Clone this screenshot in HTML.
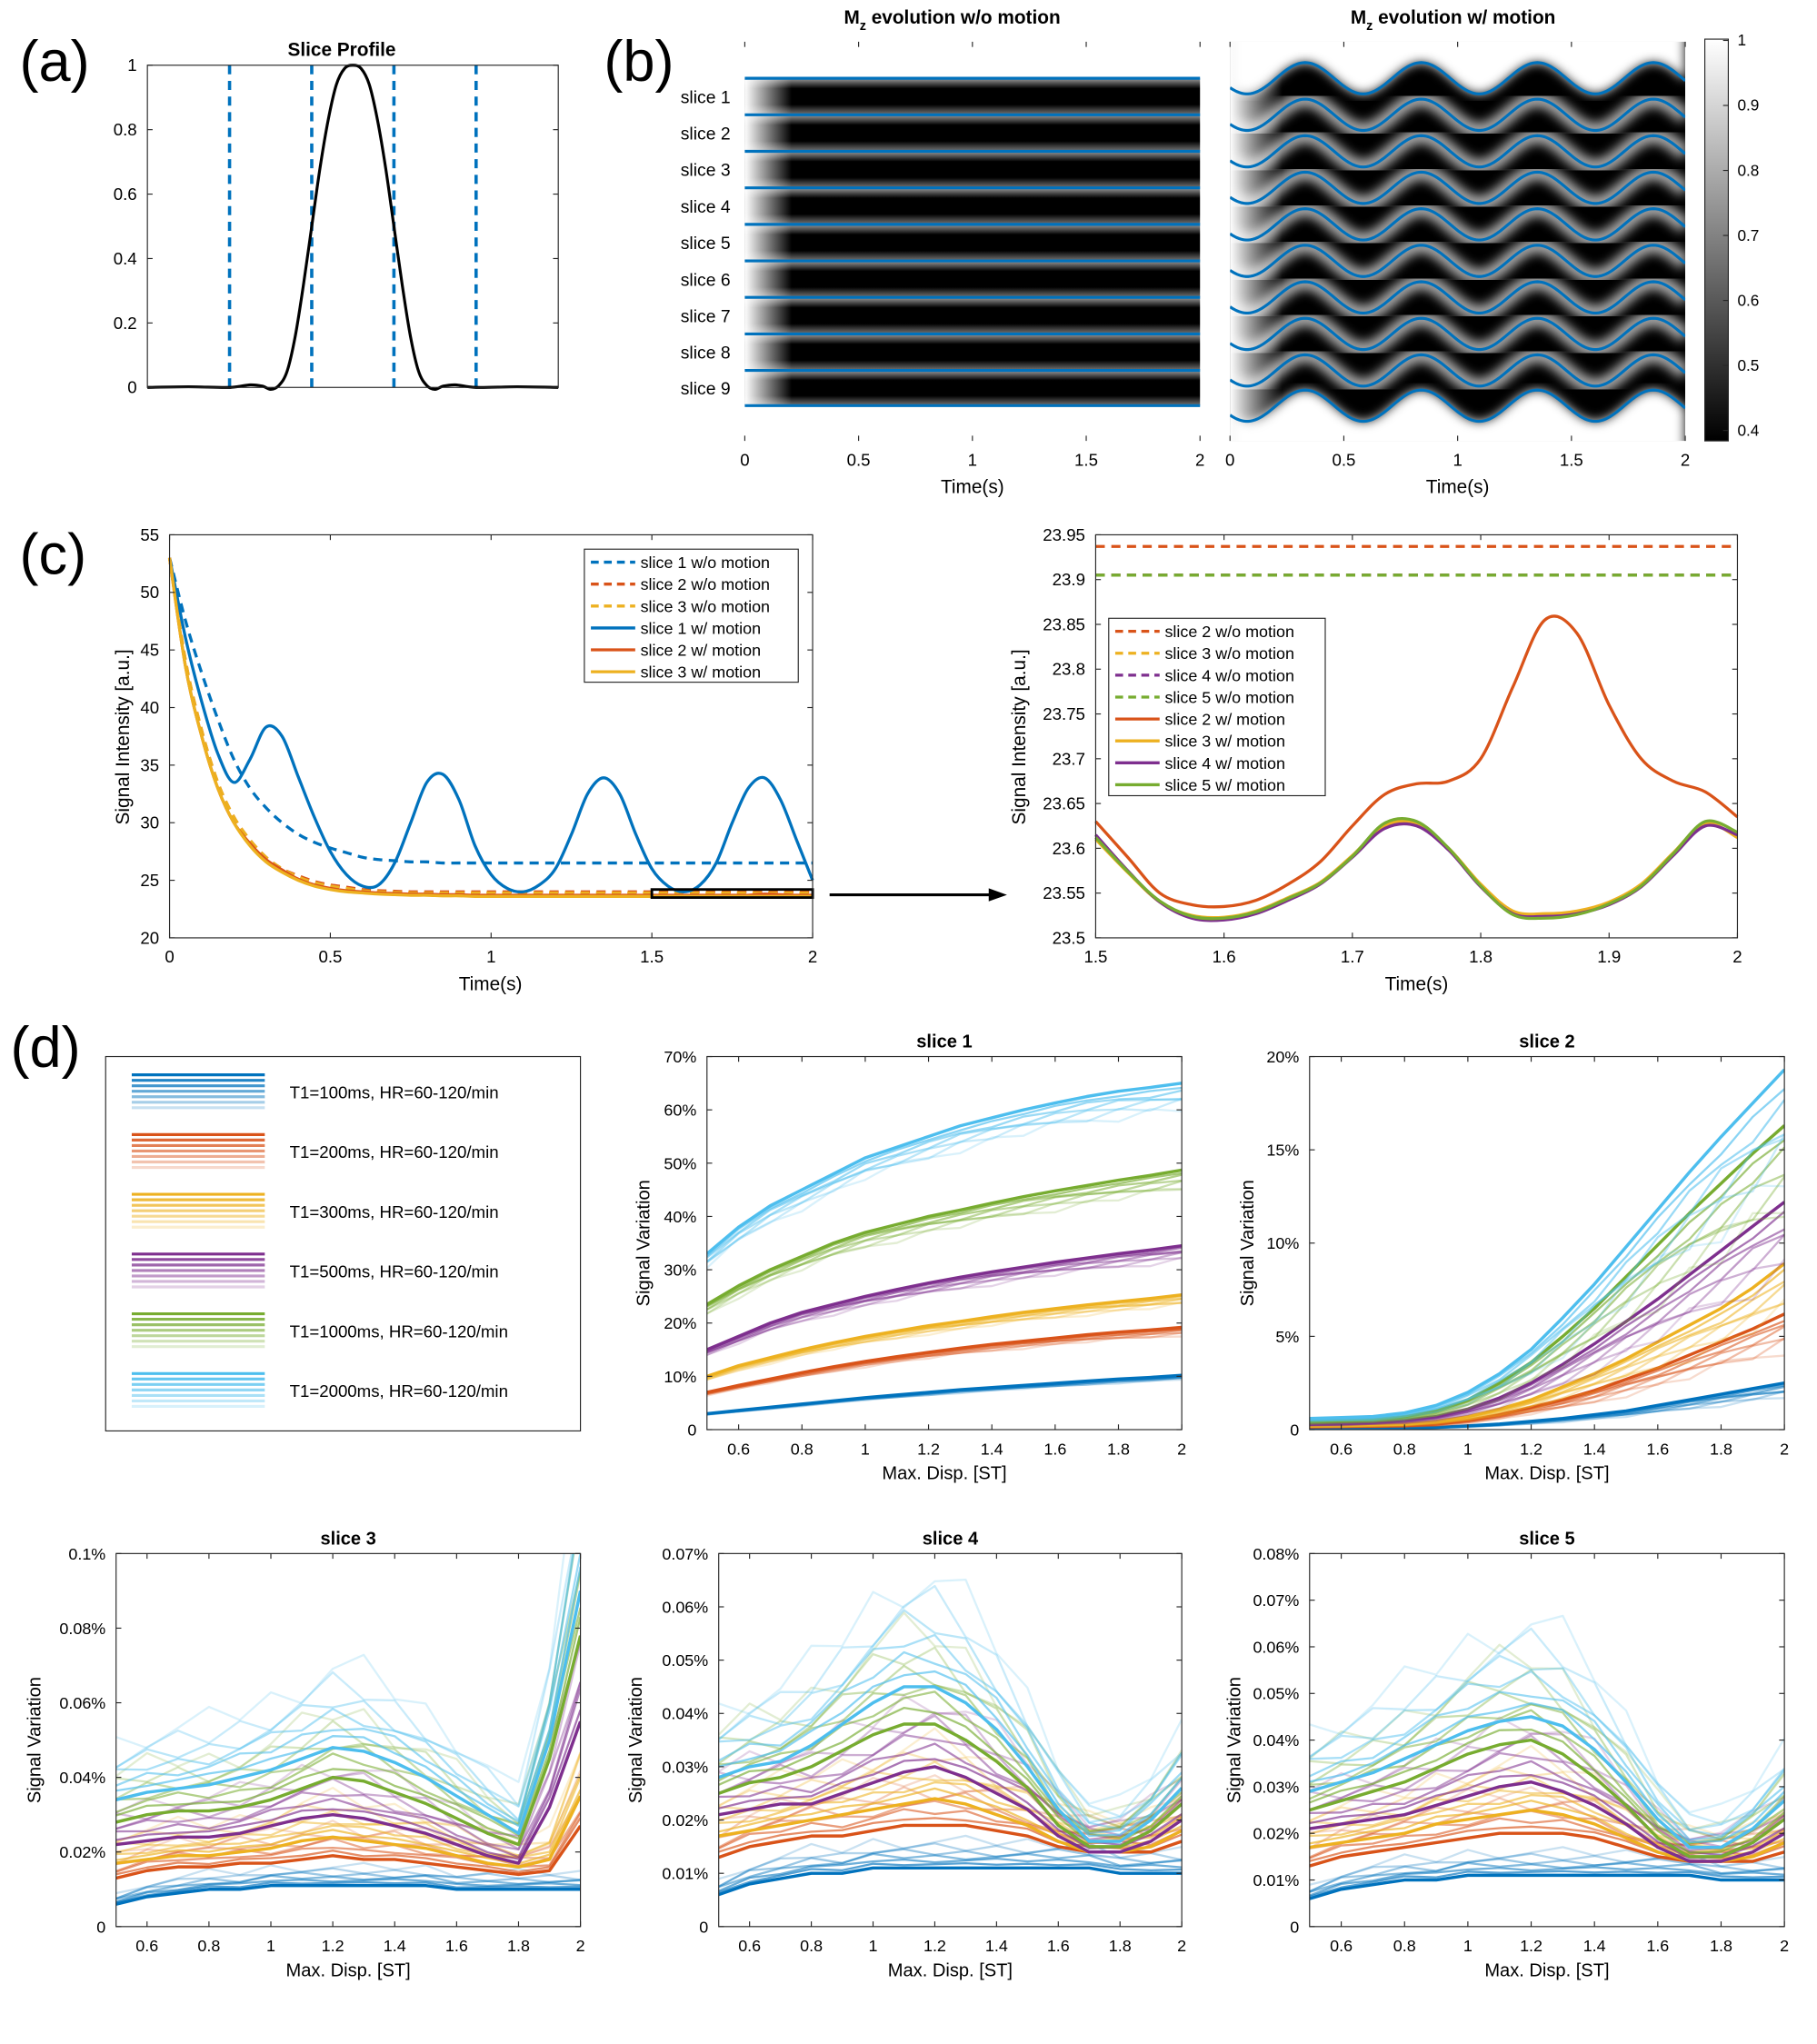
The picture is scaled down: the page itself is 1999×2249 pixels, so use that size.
<!DOCTYPE html>
<html><head><meta charset="utf-8">
<style>
html,body{margin:0;padding:0;background:#fff;}
svg{display:block;font-family:"Liberation Sans",Arial,sans-serif;}
</style></head>
<body>
<svg id="fig" width="1999" height="2249" viewBox="0 0 1393 1567" preserveAspectRatio="none" xmlns="http://www.w3.org/2000/svg">
<defs>
<linearGradient id="cbar" x1="0" y1="1" x2="0" y2="0"><stop offset="0" stop-color="#000"/><stop offset="1" stop-color="#fff"/></linearGradient>
<linearGradient id="band" x1="0" y1="0" x2="0" y2="1"><stop offset="0" stop-color="#9a9a9a"/><stop offset="0.28" stop-color="#000"/><stop offset="0.72" stop-color="#000"/><stop offset="1" stop-color="#777"/></linearGradient>
<linearGradient id="leftfade" x1="0" y1="0" x2="1" y2="0"><stop offset="0" stop-color="#fff" stop-opacity="1"/><stop offset="1" stop-color="#fff" stop-opacity="0"/></linearGradient>
<filter id="blur"><feGaussianBlur stdDeviation="4"/></filter>
<clipPath id="clipR"><rect x="943" y="32" width="349" height="306"/></clipPath>
</defs>
</svg>
<script>
// ---------- DATA ----------
const profileV = [0,10,20,25,28,30,32,34,36,38,40,42,44,46,48,50,52,54,56,58,60,62,64,66,68,70,72,75,80,90,100];
const profileY = [0,0.002,0,0.008,0.004,-0.006,0.006,0.05,0.16,0.32,0.5,0.68,0.83,0.94,0.99,1,0.99,0.94,0.83,0.68,0.5,0.32,0.16,0.05,0.006,-0.006,0.004,0.008,0,0.002,0];
const sliceBoundaries = [60,88,116,144,172,200,228,256,284,311];
const sliceNames = ['slice 1','slice 2','slice 3','slice 4','slice 5','slice 6','slice 7','slice 8','slice 9'];
const motionPeaks = [0.33,0.84,1.35,1.86];

const cTime = [0,0.05,0.1,0.15,0.2,0.25,0.3,0.35,0.4,0.45,0.5,0.55,0.6,0.65,0.7,0.75,0.8,0.85,0.9,0.95,1.0,1.05,1.1,1.15,1.2,1.25,1.3,1.35,1.4,1.45,1.5,1.55,1.6,1.65,1.7,1.75,1.8,1.85,1.9,1.95,2.0];
const s1NoMotion = [53,47.5,43,39,35.5,33,31.3,30,29,28.3,27.8,27.4,27,26.8,26.7,26.6,26.6,26.5,26.5,26.5,26.5,26.5,26.5,26.5,26.5,26.5,26.5,26.5,26.5,26.5,26.5,26.5,26.5,26.5,26.5,26.5,26.5,26.5,26.5,26.5,26.5];
const s1Motion = [53,46,40.5,36,33.5,35.5,38.3,37.5,34,30.5,27.5,25.5,24.5,24.6,26.5,30,33.5,34.2,32,28,25.5,24.3,24,24.6,26,29,32.5,33.9,32.5,29,26,24.5,24,24.6,26.5,30,33,33.9,32,28.5,25];
const s2NoMotion = [53,44,38,33.5,30.5,28.5,27,26,25.4,24.9,24.6,24.4,24.2,24.1,24.05,24,24,24,24,24,24,24,24,24,24,24,24,24,24,24,24,24,24,24,24,24,24,24,24,24,24];
const s3NoMotion = [53,44,38,33.5,30.5,28.5,27,26,25.3,24.8,24.5,24.3,24.1,24,23.95,23.9,23.9,23.9,23.9,23.9,23.9,23.9,23.9,23.9,23.9,23.9,23.9,23.9,23.9,23.9,23.9,23.9,23.9,23.9,23.9,23.9,23.9,23.9,23.9,23.9,23.9];
const s2Motion = [53,43.5,37.5,33,30,28.2,26.8,25.9,25.1,24.6,24.3,24.1,24,23.9,23.85,23.8,23.8,23.75,23.75,23.7,23.7,23.7,23.7,23.7,23.7,23.7,23.7,23.7,23.7,23.7,23.7,23.7,23.7,23.7,23.7,23.7,23.7,23.8,23.75,23.7,23.7];
const s3Motion = [53,43.5,37.5,33,30,28,26.6,25.7,25,24.5,24.2,24,23.9,23.8,23.75,23.7,23.7,23.65,23.65,23.6,23.6,23.6,23.6,23.6,23.6,23.6,23.6,23.6,23.6,23.6,23.6,23.6,23.6,23.6,23.6,23.6,23.6,23.6,23.6,23.6,23.6];

const zTime = [1.5,1.525,1.55,1.575,1.6,1.625,1.65,1.675,1.7,1.725,1.75,1.775,1.8,1.825,1.85,1.875,1.9,1.925,1.95,1.975,2.0];
const z2Motion = [23.63,23.59,23.55,23.537,23.535,23.542,23.56,23.585,23.625,23.66,23.672,23.675,23.70,23.78,23.855,23.84,23.76,23.70,23.675,23.663,23.635];
const z3Motion = [23.61,23.573,23.54,23.525,23.523,23.53,23.545,23.562,23.592,23.625,23.628,23.60,23.56,23.53,23.527,23.53,23.54,23.56,23.595,23.628,23.612];
const z4Motion = [23.615,23.575,23.54,23.522,23.52,23.527,23.542,23.56,23.59,23.622,23.625,23.598,23.557,23.527,23.524,23.527,23.537,23.557,23.592,23.625,23.615];
const z5Motion = [23.612,23.574,23.541,23.524,23.522,23.529,23.544,23.561,23.591,23.628,23.63,23.6,23.558,23.526,23.522,23.526,23.538,23.558,23.594,23.63,23.618];
const z2NoMotion = 23.937;
const z345NoMotion = 23.905;

const dispX = [0.5,0.6,0.7,0.8,0.9,1.0,1.1,1.2,1.3,1.4,1.5,1.6,1.7,1.8,1.9,2.0];
const t1Labels = ['T1=100ms, HR=60-120/min','T1=200ms, HR=60-120/min','T1=300ms, HR=60-120/min','T1=500ms, HR=60-120/min','T1=1000ms, HR=60-120/min','T1=2000ms, HR=60-120/min'];
const hrScaleS1 = [1,0.985,0.97,0.955,0.94,0.925,0.91];
const hrScaleS2 = [1,0.94,0.88,0.82,0.76,0.70,0.64];
const hrScaleS345 = [1,1.08,1.16,1.24,1.32,1.42,1.55];

const sl1 = [
 [3,3.6,4.2,4.8,5.4,6,6.5,7,7.5,7.9,8.3,8.7,9.1,9.5,9.8,10.2],
 [7,8.3,9.5,10.7,11.8,12.8,13.7,14.5,15.3,16,16.6,17.2,17.8,18.3,18.7,19.2],
 [10,12,13.5,15,16.3,17.5,18.5,19.5,20.3,21.2,22,22.7,23.4,24,24.6,25.3],
 [15,17.5,20,22,23.5,25,26.3,27.5,28.6,29.6,30.5,31.4,32.2,33,33.7,34.5],
 [23.5,27,30,32.5,35,37,38.5,40,41.2,42.5,43.7,44.8,45.8,46.8,47.7,48.7],
 [33,38,42,45,48,51,53,55,57,58.5,60,61.3,62.5,63.5,64.2,65]];
const sl2 = [
 [0.05,0.06,0.07,0.09,0.12,0.2,0.3,0.45,0.6,0.8,1.0,1.3,1.6,1.9,2.2,2.5],
 [0.15,0.17,0.19,0.22,0.3,0.5,0.8,1.2,1.6,2.1,2.7,3.3,4,4.7,5.4,6.2],
 [0.2,0.22,0.26,0.3,0.45,0.7,1.1,1.6,2.3,3,3.8,4.7,5.6,6.5,7.6,8.9],
 [0.3,0.33,0.4,0.5,0.7,1.1,1.7,2.5,3.5,4.6,5.8,7,8.3,9.6,10.9,12.2],
 [0.45,0.5,0.55,0.7,1.0,1.6,2.5,3.6,5,6.5,8.2,9.9,11.6,13.2,14.8,16.3],
 [0.6,0.65,0.7,0.9,1.3,2,3,4.3,6,7.8,9.8,11.8,13.8,15.7,17.5,19.3]];
const sl3 = [
 [0.006,0.008,0.009,0.010,0.010,0.011,0.011,0.011,0.011,0.011,0.011,0.010,0.010,0.010,0.010,0.010],
 [0.013,0.015,0.016,0.016,0.017,0.017,0.018,0.019,0.018,0.018,0.017,0.016,0.015,0.014,0.015,0.027],
 [0.017,0.018,0.019,0.019,0.020,0.021,0.023,0.024,0.023,0.022,0.021,0.019,0.017,0.016,0.018,0.035],
 [0.022,0.023,0.024,0.024,0.025,0.027,0.029,0.030,0.029,0.027,0.025,0.022,0.019,0.017,0.032,0.055],
 [0.028,0.030,0.031,0.031,0.032,0.034,0.037,0.040,0.039,0.036,0.033,0.029,0.025,0.022,0.045,0.078],
 [0.034,0.036,0.037,0.038,0.040,0.042,0.045,0.048,0.047,0.044,0.040,0.035,0.030,0.025,0.050,0.090]];
const sl4 = [
 [0.006,0.008,0.009,0.010,0.010,0.011,0.011,0.011,0.011,0.011,0.011,0.011,0.011,0.010,0.010,0.010],
 [0.013,0.015,0.016,0.017,0.017,0.018,0.019,0.019,0.019,0.018,0.017,0.015,0.014,0.014,0.014,0.016],
 [0.017,0.018,0.019,0.020,0.021,0.022,0.023,0.024,0.023,0.021,0.019,0.016,0.014,0.014,0.015,0.018],
 [0.021,0.022,0.023,0.023,0.025,0.027,0.029,0.030,0.028,0.025,0.022,0.017,0.014,0.014,0.016,0.020],
 [0.025,0.027,0.028,0.030,0.033,0.036,0.038,0.038,0.035,0.031,0.026,0.019,0.015,0.015,0.018,0.023],
 [0.028,0.030,0.031,0.034,0.038,0.042,0.045,0.045,0.042,0.037,0.030,0.022,0.016,0.016,0.020,0.026]];
const sl5 = [
 [0.006,0.008,0.009,0.010,0.010,0.011,0.011,0.011,0.011,0.011,0.011,0.011,0.011,0.010,0.010,0.010],
 [0.013,0.015,0.016,0.017,0.018,0.019,0.020,0.020,0.020,0.019,0.017,0.015,0.014,0.014,0.014,0.016],
 [0.017,0.018,0.019,0.020,0.022,0.023,0.024,0.025,0.024,0.022,0.019,0.016,0.014,0.014,0.015,0.018],
 [0.021,0.022,0.023,0.024,0.026,0.028,0.030,0.031,0.029,0.026,0.022,0.017,0.014,0.014,0.016,0.020],
 [0.025,0.027,0.029,0.031,0.034,0.037,0.039,0.040,0.037,0.032,0.026,0.019,0.015,0.015,0.018,0.023],
 [0.029,0.031,0.033,0.036,0.039,0.042,0.044,0.045,0.043,0.038,0.031,0.023,0.017,0.017,0.021,0.027]];

const colors = ['#0072BD','#D95319','#EDB120','#7E2F8E','#77AC30','#4DBEEE'];

// ---------- HELPERS ----------
const NS='http://www.w3.org/2000/svg';
const svg=document.getElementById('fig');
const defs=svg.querySelector('defs');
function mk(tag,attrs,parent){const e=document.createElementNS(NS,tag);for(const k in attrs)e.setAttribute(k,attrs[k]);(parent||svg).appendChild(e);return e;}
function txt(x,y,s,size,anchor,extra){const t=mk('text',Object.assign({x:x,y:y,'font-size':size,'text-anchor':anchor||'middle',fill:'#000'},extra||{}));t.textContent=s;return t;}
function axis(x0,y0,x1,y1,xmin,xmax,ymin,ymax){return {x0,y0,x1,y1,sx:v=>x0+(v-xmin)/(xmax-xmin)*(x1-x0),sy:v=>y1-(v-ymin)/(ymax-ymin)*(y1-y0)};}
function box(a){const r=mk('rect',{x:a.x0,y:a.y0,width:a.x1-a.x0,height:a.y1-a.y0,fill:'none',stroke:'#262626','stroke-width':0.8});

}
function ticks(a,xv,xl,yv,yl,fs){
 xv.forEach((v,i)=>{const x=a.sx(v);
  mk('line',{x1:x,y1:a.y1,x2:x,y2:a.y1-4,stroke:'#262626','stroke-width':0.8});
  mk('line',{x1:x,y1:a.y0,x2:x,y2:a.y0+4,stroke:'#262626','stroke-width':0.8});
  if(xl){const t=txt(x,a.y1+19,xl[i],fs||13);
  
  }});
 yv.forEach((v,i)=>{const y=a.sy(v);
  mk('line',{x1:a.x0,y1:y,x2:a.x0+4,y2:y,stroke:'#262626','stroke-width':0.8});
  mk('line',{x1:a.x1,y1:y,x2:a.x1-4,y2:y,stroke:'#262626','stroke-width':0.8});
  if(yl){const t=txt(a.x0-8,y+4.5,yl[i],fs||13,'end');
  
  }});}
function poly(a,xs,ys,attrs,parent){const d=xs.map((x,i)=>(i?'L':'M')+a.sx(x).toFixed(2)+','+a.sy(ys[i]).toFixed(2)).join('');
 return mk('path',Object.assign({d:d,fill:'none','stroke-linejoin':'round'},attrs),parent);}
function smooth(a,xs,ys,attrs){const P=xs.map((x,i)=>[a.sx(x),a.sy(ys[i])]);let d='M'+P[0][0].toFixed(2)+','+P[0][1].toFixed(2);
 for(let i=0;i<P.length-1;i++){const p0=P[i-1]||P[i],p1=P[i],p2=P[i+1],p3=P[i+2]||P[i+1];
  const c1=[p1[0]+(p2[0]-p0[0])/6,p1[1]+(p2[1]-p0[1])/6],c2=[p2[0]-(p3[0]-p1[0])/6,p2[1]-(p3[1]-p1[1])/6];
  d+='C'+c1[0].toFixed(2)+','+c1[1].toFixed(2)+' '+c2[0].toFixed(2)+','+c2[1].toFixed(2)+' '+p2[0].toFixed(2)+','+p2[1].toFixed(2);}
 return mk('path',Object.assign({d:d,fill:'none','stroke-linejoin':'round'},attrs));}

// ---------- PANEL LABELS ----------
[['(a)',15,62],['(b)',463,62],['(c)',15,440],['(d)',8,818]].forEach(p=>{const t=txt(p[1],p[2],p[0],44,'start');

});

// ---------- (a) ----------
const aA=axis(113,50,428,297,0,100,0,1);
[20,40,60,80].forEach(v=>{const l=mk('line',{x1:aA.sx(v),y1:aA.y0,x2:aA.sx(v),y2:aA.y1,stroke:'#0072BD','stroke-width':2.5,'stroke-dasharray':'7,5'});

});
const prof=smooth(aA,profileV,profileY,{stroke:'#000','stroke-width':2.2});


box(aA);
ticks(aA,[],null,[0,0.2,0.4,0.6,0.8,1],['0','0.2','0.4','0.6','0.8','1']);
const at=txt(262,43,'Slice Profile',14.5,'middle',{'font-weight':'bold'});



// ---------- (b) ----------
const bL=axis(571,32,920,338,0,2,0,1), bR=axis(943,32,1292,338,0,2,0,1);
mk('rect',{x:571,y:32,width:349,height:306,fill:'#fff'});
for(let i=0;i<9;i++){const r=mk('rect',{x:571,y:sliceBoundaries[i],width:349,height:sliceBoundaries[i+1]-sliceBoundaries[i],fill:'url(#band)'});

}
mk('rect',{x:571,y:32,width:36,height:306,fill:'url(#leftfade)'});
sliceBoundaries.forEach(y=>{const l=mk('line',{x1:571,y1:y,x2:920,y2:y,stroke:'#0072BD','stroke-width':2.2});

});
sliceNames.forEach((s,i)=>{const t=txt(560,(sliceBoundaries[i]+sliceBoundaries[i+1])/2+5,s,13.5,'end');

});
function wave(t){let best=1e9;motionPeaks.forEach(p=>{const d=t-p;if(Math.abs(d)<Math.abs(best))best=d;});return -12*Math.cos(2*Math.PI*best/0.51);}
function wavePath(base){let d='';for(let k=0;k<=200;k++){const t=k/100;d+=(k?'L':'M')+bR.sx(t).toFixed(2)+','+(base+wave(t)).toFixed(2);}return d;}
const gR=mk('g',{'clip-path':'url(#clipR)'});
mk('rect',{x:943,y:32,width:349,height:306,fill:'#000'},gR);
mk('path',{d:wavePath(sliceBoundaries[0])+'L1292,20L943,20Z',fill:'#fff',filter:'url(#blur)'},gR);
mk('path',{d:wavePath(sliceBoundaries[9])+'L1292,350L943,350Z',fill:'#fff',filter:'url(#blur)'},gR);
sliceBoundaries.slice(1,9).forEach(b=>{mk('path',{d:wavePath(b),stroke:'#aaa','stroke-width':12,fill:'none',filter:'url(#blur)'},gR);});
mk('rect',{x:943,y:32,width:40,height:306,fill:'url(#leftfade)'},gR);
sliceBoundaries.forEach(b=>{const p=mk('path',{d:wavePath(b),stroke:'#0072BD','stroke-width':2.2,fill:'none'},gR);

});
[bL,bR].forEach(a=>{ticks(a,[0,0.5,1,1.5,2],['0','0.5','1','1.5','2'],[],null);
const t=txt((a.x0+a.x1)/2,378,'Time(s)',14.5);

});
const bt1=txt(730,18,'M',14.5,'middle',{'font-weight':'bold'});
bt1.innerHTML='M<tspan dy="5" font-size="10">z</tspan><tspan dy="-5"> evolution w/o motion</tspan>';


const bt2=txt(1114,18,'M',14.5,'middle',{'font-weight':'bold'});
bt2.innerHTML='M<tspan dy="5" font-size="10">z</tspan><tspan dy="-5"> evolution w/ motion</tspan>';


const cb=mk('rect',{x:1307,y:30,width:18,height:308,fill:'url(#cbar)',stroke:'#262626','stroke-width':0.8});


const cbA=axis(1307,31,1325,330,0,1,0.4,1);
[0.4,0.5,0.6,0.7,0.8,0.9,1].forEach(v=>{const y=cbA.sy(v);mk('line',{x1:1321,y1:y,x2:1325,y2:y,stroke:'#262626','stroke-width':0.8});
const t=txt(1332,y+4,String(v),12,'start');

});

// ---------- (c) left ----------
const cL=axis(130,410,623,719,0,2,20,55);
const cSeries=[[s1NoMotion,colors[0],true,'slice 1 w/o motion'],[s2NoMotion,colors[1],true,'slice 2 w/o motion'],[s3NoMotion,colors[2],true,'slice 3 w/o motion'],[s1Motion,colors[0],false,'slice 1 w/ motion'],[s2Motion,colors[1],false,'slice 2 w/ motion'],[s3Motion,colors[2],false,'slice 3 w/ motion']];
cSeries.forEach(s=>{const p=smooth(cL,cTime,s[0],Object.assign({stroke:s[1],'stroke-width':2.3},s[2]?{'stroke-dasharray':'7,5'}:{}));

});
const zr=mk('rect',{x:cL.sx(1.5),y:cL.sy(24.2),width:cL.sx(2)-cL.sx(1.5),height:cL.sy(23.5)-cL.sy(24.2),fill:'none',stroke:'#000','stroke-width':2});


box(cL);
ticks(cL,[0,0.5,1,1.5,2],['0','0.5','1','1.5','2'],[20,25,30,35,40,45,50,55],['20','25','30','35','40','45','50','55']);
let t=txt(376,759,'Time(s)',14.5);


t=txt(0,0,'Signal Intensity [a.u.]',14.5,'middle',{transform:'translate(99,565) rotate(-90)'});


const lg1=mk('rect',{x:448,y:421,width:164,height:102,fill:'#fff',stroke:'#262626','stroke-width':0.8});


cSeries.forEach((s,i)=>{const y=431+i*16.8;
const l=mk('line',Object.assign({x1:453,y1:y,x2:487,y2:y,stroke:s[1],'stroke-width':2.3},s[2]?{'stroke-dasharray':'6,4'}:{}));


const tt=txt(491,y+4.5,s[3],12.5,'start');

});
const ar=mk('line',{x1:636,y1:686,x2:762,y2:686,stroke:'#000','stroke-width':2.2});


mk('path',{d:'M772,686L758,681L758,691Z',fill:'#000'});

// ---------- (c) right ----------
const cR=axis(840,410,1332,719,1.5,2,23.5,23.95);
const zSeries=[[null,z2NoMotion,colors[1],'slice 2 w/o motion'],[null,z345NoMotion,colors[2],'slice 3 w/o motion'],[null,z345NoMotion,colors[3],'slice 4 w/o motion'],[null,z345NoMotion,colors[4],'slice 5 w/o motion'],[z2Motion,null,colors[1],'slice 2 w/ motion'],[z3Motion,null,colors[2],'slice 3 w/ motion'],[z4Motion,null,colors[3],'slice 4 w/ motion'],[z5Motion,null,colors[4],'slice 5 w/ motion']];
zSeries.forEach(s=>{let p;
 if(s[0])p=smooth(cR,zTime,s[0],{stroke:s[2],'stroke-width':2.3});
 else p=poly(cR,[1.5,2],[s[1],s[1]],{stroke:s[2],'stroke-width':2.3,'stroke-dasharray':'7,5'});

});
box(cR);
ticks(cR,[1.5,1.6,1.7,1.8,1.9,2],['1.5','1.6','1.7','1.8','1.9','2'],[23.5,23.55,23.6,23.65,23.7,23.75,23.8,23.85,23.9,23.95],['23.5','23.55','23.6','23.65','23.7','23.75','23.8','23.85','23.9','23.95']);
t=txt(1086,759,'Time(s)',14.5);


t=txt(0,0,'Signal Intensity [a.u.]',14.5,'middle',{transform:'translate(786,565) rotate(-90)'});


const lg2=mk('rect',{x:850,y:474,width:166,height:136,fill:'#fff',stroke:'#262626','stroke-width':0.8});


zSeries.forEach((s,i)=>{const y=484+i*16.8;
const l=mk('line',Object.assign({x1:855,y1:y,x2:889,y2:y,stroke:s[2],'stroke-width':2.3},s[0]?{}:{'stroke-dasharray':'6,4'}));


const tt=txt(893,y+4.5,s[3],12.5,'start');

});

// ---------- (d) legend ----------
const lg3=mk('rect',{x:81,y:810,width:364,height:287,fill:'#fff',stroke:'#262626','stroke-width':0.8});


t1Labels.forEach((s,i)=>{const c=837+i*45.8;
 for(let k=0;k<7;k++){const y=c-13+k*4.2;
  const l=mk('line',{x1:101,y1:y,x2:203,y2:y,stroke:colors[i],'stroke-width':2.2,'stroke-opacity':(1-k*0.13).toFixed(2)});
  
  }
 const tt=txt(222,c+5,s,13,'start');
 
 });

// ---------- (d) subplots ----------
let clipN=0;
function subplot(x0,y0,x1,y1,ymax,yt,ylab,data,scales,title,ylx){
 const a=axis(x0,y0,x1,y1,0.5,2,0,ymax);
 const cid='spclip'+(clipN++);
 const cp=mk('clipPath',{id:cid},defs);
 mk('rect',{x:x0,y:y0,width:x1-x0,height:y1-y0},cp);
 const g=mk('g',{'clip-path':'url(#'+cid+')'});
 data.forEach((ser,si)=>{
  for(let k=scales.length-1;k>=0;k--){
   const ys=ser.map((v,j)=>v*(1+(scales[k]-1)*(0.6+0.4*((j*7+k*3+si)%5)/4)));
   const p=poly(a,dispX,ys,{stroke:colors[si],'stroke-width':k==0?2.4:1.6,'stroke-opacity':k==0?1:(0.75-k*0.09).toFixed(2)},g);
   
   }});
 box(a);
 ticks(a,[0.6,0.8,1,1.2,1.4,1.6,1.8,2],['0.6','0.8','1','1.2','1.4','1.6','1.8','2'],yt,ylab,12.5);
 let q=txt((x0+x1)/2,y0-7,title,14,'middle',{'font-weight':'bold'});
 
 
 q=txt((x0+x1)/2,y1+38,'Max. Disp. [ST]',14);
 
 
 q=txt(0,0,'Signal Variation',14,'middle',{transform:'translate('+ylx+','+((y0+y1)/2)+') rotate(-90)'});
 
 }
subplot(542,810,906,1096,70,[0,10,20,30,40,50,60,70],['0','10%','20%','30%','40%','50%','60%','70%'],sl1,hrScaleS1,'slice 1',498);
subplot(1004,810,1368,1096,20,[0,5,10,15,20],['0','5%','10%','15%','20%'],sl2,hrScaleS2,'slice 2',961);
subplot(89,1191,445,1477,0.1,[0,0.02,0.04,0.06,0.08,0.1],['0','0.02%','0.04%','0.06%','0.08%','0.1%'],sl3,hrScaleS345,'slice 3',31);
subplot(551,1191,906,1477,0.07,[0,0.01,0.02,0.03,0.04,0.05,0.06,0.07],['0','0.01%','0.02%','0.03%','0.04%','0.05%','0.06%','0.07%'],sl4,hrScaleS345,'slice 4',492);
subplot(1004,1191,1368,1477,0.08,[0,0.01,0.02,0.03,0.04,0.05,0.06,0.07,0.08],['0','0.01%','0.02%','0.03%','0.04%','0.05%','0.06%','0.07%','0.08%'],sl5,hrScaleS345,'slice 5',951);
</script>
</body></html>
